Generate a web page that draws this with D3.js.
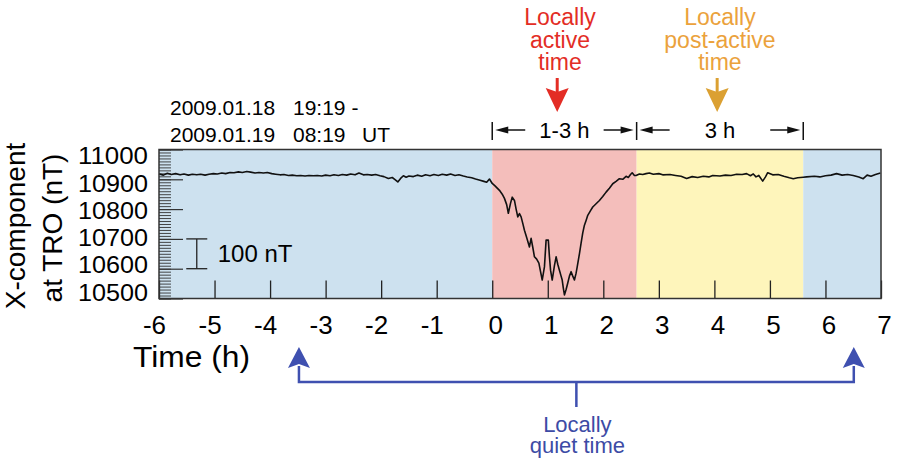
<!DOCTYPE html>
<html>
<head>
  <meta charset="utf-8">
  <title>X-component at TRO</title>
  <script src="https://cdn.jsdelivr.net/npm/d3@7"></script>
</head>
<style>
  html,
  body {
    margin: 0;
    padding: 0;
    overflow: hidden;
    background: #fff
  }

  svg {
    font-family: "Liberation Sans", Arial, sans-serif;
  }
</style>
<body>
  <div id="chart"></div>
</body>
<script>
  // hour ticks and nT ticks
  const hourTicks = d3.range(-6, 8)
  const nTTicks = [10500, 10600, 10700, 10800, 10900, 11000]
  const nTMinor = d3.range(10500, 11001, 10)

  // shaded periods
  const periodNames = ['quiet', 'active', 'post-active', 'quiet']
  const periodStart = [-6, 0, 2.6, 5.6]
  const periodEnd = [0, 2.6, 5.6, 7]

  // bracket bars above the plot (hours)
  const bracketBars = [0, 2.6, 5.6]
  const bracketLabels = ['1-3 h', '3 h']

  // blue arrows for quiet time (hours)
  const quietMarks = [-3.48, 6.51]

  // X component (nT), [hour, nT]
  const trace = [
    [-6.00, 10918], [-5.92, 10914], [-5.85, 10920], [-5.78, 10916], [-5.70, 10919], [-5.62, 10915],
    [-5.55, 10918], [-5.47, 10914], [-5.40, 10917], [-5.32, 10915], [-5.25, 10917], [-5.17, 10914],
    [-5.10, 10917], [-5.02, 10919], [-4.95, 10918], [-4.87, 10921], [-4.80, 10919], [-4.72, 10923],
    [-4.65, 10922], [-4.57, 10925], [-4.50, 10923], [-4.42, 10926], [-4.35, 10924], [-4.27, 10921],
    [-4.20, 10923], [-4.12, 10921], [-4.05, 10923], [-3.97, 10919], [-3.90, 10917], [-3.82, 10915],
    [-3.75, 10916], [-3.67, 10913], [-3.60, 10914], [-3.52, 10912], [-3.45, 10913], [-3.37, 10911],
    [-3.30, 10913], [-3.22, 10912], [-3.15, 10913], [-3.07, 10911], [-3.00, 10914], [-2.92, 10912],
    [-2.85, 10915], [-2.77, 10913], [-2.70, 10916], [-2.62, 10914], [-2.55, 10918], [-2.47, 10915],
    [-2.40, 10921], [-2.32, 10915], [-2.25, 10916], [-2.17, 10914], [-2.10, 10916], [-2.02, 10912],
    [-1.95, 10909], [-1.87, 10903], [-1.80, 10906], [-1.75, 10899], [-1.70, 10891], [-1.65, 10903],
    [-1.60, 10912], [-1.55, 10907], [-1.50, 10911], [-1.42, 10909], [-1.35, 10914], [-1.27, 10910],
    [-1.20, 10915], [-1.12, 10912], [-1.05, 10916], [-0.97, 10913], [-0.90, 10917], [-0.82, 10914],
    [-0.75, 10918], [-0.67, 10913], [-0.60, 10915], [-0.52, 10911], [-0.45, 10908], [-0.37, 10905],
    [-0.30, 10901], [-0.22, 10897], [-0.15, 10893], [-0.10, 10890], [-0.05, 10901], [0.00, 10886],
    [0.05, 10878], [0.13, 10863], [0.18, 10850], [0.22, 10836], [0.26, 10815], [0.29, 10786],
    [0.33, 10820], [0.36, 10840], [0.40, 10829], [0.43, 10800], [0.46, 10774], [0.49, 10785],
    [0.52, 10774], [0.55, 10752], [0.58, 10729], [0.62, 10705], [0.67, 10673], [0.70, 10702],
    [0.73, 10672], [0.76, 10640], [0.80, 10632], [0.84, 10619], [0.87, 10590], [0.90, 10562],
    [0.94, 10606], [0.97, 10696], [1.01, 10696], [1.03, 10640], [1.05, 10595], [1.08, 10562],
    [1.12, 10610], [1.15, 10640], [1.18, 10615], [1.21, 10595], [1.24, 10575], [1.26, 10562],
    [1.28, 10535], [1.30, 10512], [1.33, 10530], [1.36, 10552], [1.39, 10575], [1.42, 10590],
    [1.45, 10575], [1.48, 10562], [1.51, 10585], [1.53, 10606], [1.57, 10650], [1.60, 10686],
    [1.63, 10720], [1.66, 10746], [1.69, 10762], [1.72, 10779], [1.77, 10795], [1.81, 10807],
    [1.87, 10818], [1.93, 10829], [1.99, 10842], [2.05, 10857], [2.11, 10870], [2.17, 10885],
    [2.23, 10893], [2.29, 10902], [2.35, 10900], [2.41, 10910], [2.45, 10906], [2.49, 10916],
    [2.52, 10922], [2.56, 10913], [2.59, 10913], [2.65, 10918], [2.71, 10916], [2.77, 10919],
    [2.83, 10921], [2.90, 10917], [3.00, 10919], [3.07, 10915], [3.20, 10916], [3.30, 10913],
    [3.40, 10910], [3.50, 10903], [3.60, 10909], [3.70, 10906], [3.80, 10910], [3.90, 10908],
    [3.97, 10913], [4.10, 10911], [4.20, 10914], [4.30, 10913], [4.40, 10917], [4.50, 10916],
    [4.58, 10919], [4.65, 10912], [4.70, 10918], [4.75, 10908], [4.80, 10913], [4.87, 10894],
    [4.92, 10908], [4.96, 10922], [5.05, 10915], [5.15, 10916], [5.25, 10910], [5.35, 10905],
    [5.42, 10902], [5.50, 10905], [5.60, 10907], [5.66, 10908], [5.80, 10910], [5.90, 10908],
    [6.00, 10912], [6.10, 10914], [6.20, 10919], [6.30, 10914], [6.40, 10916], [6.50, 10913],
    [6.60, 10908], [6.68, 10902], [6.75, 10914], [6.82, 10910], [6.90, 10916], [6.99, 10921]
  ]

  const W = 898, H = 462
  const plotL = 159, plotR = 881, plotT = 149.5, plotB = 298.5

  const colors = { 'quiet': '#cde1ef', 'active': '#f4bebb', 'post-active': '#fef5bb' }

  const x = d3.scaleLinear().domain([-6, 7]).range([plotL, plotR])
  const y = d3.scaleLinear().domain([10500, 11000]).range([plotB, plotT])
  // tick labels sit a little inside the tick range in the original
  const yLab = d3.scaleLinear().domain([10500, 11000]).range([292.5, 156])

  const svg = d3.select('#chart').append('svg')
    .attr('width', W).attr('height', H)

  // shading
  svg.append('g').selectAll('rect')
    .data(periodNames)
    .enter().append('rect')
    .attr('x', (d, i) => x(periodStart[i]))
    .attr('y', plotT)
    .attr('width', (d, i) => x(periodEnd[i]) - x(periodStart[i]))
    .attr('height', plotB - plotT)
    .attr('fill', d => colors[d])

  // minor y ticks
  svg.append('g')
    .attr('transform', `translate(${plotL},0)`)
    .call(d3.axisLeft(y).tickValues(nTMinor).tickSize(-12).tickFormat(''))
    .call(g => g.select('.domain').remove())
    .call(g => g.selectAll('line').attr('stroke', '#333').attr('stroke-width', 0.9))

  // major y ticks
  svg.append('g')
    .attr('transform', `translate(${plotL},0)`)
    .call(d3.axisLeft(y).tickValues(nTTicks).tickSize(-24).tickFormat(''))
    .call(g => g.select('.domain').remove())
    .call(g => g.selectAll('line').attr('stroke', '#333').attr('stroke-width', 1.2))

  svg.append('g').selectAll('text')
    .data(nTTicks)
    .enter().append('text')
    .attr('x', 148)
    .attr('y', d => yLab(d))
    .attr('dy', '0.36em')
    .attr('text-anchor', 'end')
    .attr('font-size', 23)
    .attr('textLength', 70)
    .attr('lengthAdjust', 'spacingAndGlyphs')
    .text(d => d)

  // x axis (plain hyphen for negatives, as in the figure)
  svg.append('g')
    .attr('transform', `translate(0,${plotB})`)
    .call(d3.axisBottom(x).tickValues(hourTicks).tickFormat(d => String(d))
      .tickSizeInner(-18).tickSizeOuter(0).tickPadding(17))
    .call(g => g.select('.domain').remove())
    .call(g => g.selectAll('line').attr('stroke', '#222').attr('stroke-width', 1.3))
    .call(g => g.selectAll('text')
      .attr('font-size', 26)
      .attr('font-family', '"Liberation Sans", Arial, sans-serif')
      .attr('fill', '#000')
      .attr('dx', d => d < 0 ? -5 : 3))

  // trace
  svg.append('path')
    .datum(trace)
    .attr('fill', 'none')
    .attr('stroke', '#111')
    .attr('stroke-width', 1.6)
    .attr('stroke-linejoin', 'round')
    .attr('d', d3.line().x(d => x(d[0])).y(d => y(d[1])))

  // frame
  svg.append('rect')
    .attr('x', plotL).attr('y', plotT)
    .attr('width', plotR - plotL).attr('height', plotB - plotT)
    .attr('fill', 'none').attr('stroke', '#333').attr('stroke-width', 1.5)

  // 100 nT scale bar
  const sb = svg.append('g').attr('stroke', '#222').attr('stroke-width', 1.3)
  const sbx = x(-5.32)
  sb.append('line').attr('x1', sbx).attr('x2', sbx).attr('y1', y(10700)).attr('y2', y(10600))
  sb.append('line').attr('x1', sbx - 10.5).attr('x2', sbx + 10.5).attr('y1', y(10700)).attr('y2', y(10700))
  sb.append('line').attr('x1', sbx - 10.5).attr('x2', sbx + 10.5).attr('y1', y(10600)).attr('y2', y(10600))
  svg.append('text')
    .attr('x', sbx + 21).attr('y', y(10650)).attr('dy', '0.36em')
    .attr('font-size', 24)
    .text('100 nT')

  // y title
  svg.append('text')
    .attr('transform', 'translate(25,226) rotate(-90)')
    .attr('text-anchor', 'middle')
    .attr('font-size', 28)
    .text('X-component')
  svg.append('text')
    .attr('transform', 'translate(62,228) rotate(-90)')
    .attr('text-anchor', 'middle')
    .attr('font-size', 28)
    .text('at TRO (nT)')

  // x title
  svg.append('text')
    .attr('x', 133).attr('y', 367)
    .attr('font-size', 29)
    .attr('textLength', 117)
    .attr('lengthAdjust', 'spacingAndGlyphs')
    .text('Time (h)')

  // date range
  const dates = svg.append('g').attr('font-size', 21)
  dates.append('text').attr('x', 170).attr('y', 115).text('2009.01.18')
  dates.append('text').attr('x', 293).attr('y', 115).text('19:19 -')
  dates.append('text').attr('x', 170).attr('y', 141.5).text('2009.01.19')
  dates.append('text').attr('x', 293).attr('y', 141.5).text('08:19')
  dates.append('text').attr('x', 362).attr('y', 141.5).text('UT')

  // bracket above the plot
  const by = 130
  const br = svg.append('g').attr('stroke', '#111').attr('stroke-width', 1.5)
  bracketBars.forEach(h => {
    br.append('line').attr('x1', x(h)).attr('x2', x(h)).attr('y1', 122).attr('y2', 140)
  })
  function smallArrow(g, tip, dir) {
    // dir = +1 points right, -1 points left
    const tail = tip - dir * 30
    g.append('line').attr('x1', tail).attr('x2', tip - dir * 8).attr('y1', by).attr('y2', by)
    g.append('path')
      .attr('d', `M${tip},${by}L${tip - dir * 13},${by - 3.5}L${tip - dir * 13},${by + 3.5}Z`)
      .attr('fill', '#111').attr('stroke', 'none')
  }
  for (let i = 0; i < bracketLabels.length; i++) {
    const a = x(bracketBars[i]), b = x(bracketBars[i + 1])
    smallArrow(br, a + 3, -1)
    smallArrow(br, b - 3, 1)
    svg.append('text')
      .attr('x', (a + b) / 2).attr('y', 138)
      .attr('text-anchor', 'middle')
      .attr('font-size', 22)
      .text(bracketLabels[i])
  }

  // coloured callouts above
  function callout(lines, cx, ax, textColor, arrowColor) {
    svg.append('g').selectAll('text')
      .data(lines)
      .enter().append('text')
      .attr('x', cx)
      .attr('y', (d, i) => 25 + i * 22.5)
      .attr('text-anchor', 'middle')
      .attr('font-size', 23)
      .attr('fill', textColor)
      .text(d => d)
    svg.append('line')
      .attr('x1', ax).attr('x2', ax).attr('y1', 78).attr('y2', 92)
      .attr('stroke', arrowColor).attr('stroke-width', 3)
    svg.append('path')
      .attr('d', `M${ax - 11.5},88L${ax},92L${ax + 11.5},88L${ax},112Z`)
      .attr('fill', arrowColor)
  }
  callout(['Locally', 'active', 'time'], x(1.22), x(1.17), '#e32d25', '#e32d25')
  callout(['Locally', 'post-active', 'time'], x(4.1), x(4.05), '#eba23c', '#dba032')

  // quiet time arrows below
  const blue = '#3f50b0'
  const qa = x(quietMarks[0]), qb = x(quietMarks[1]), qm = (qa + qb) / 2
  const q = svg.append('g')
  q.append('path')
    .attr('d', `M${qa},366V382H${qb}V366M${qm},382V407`)
    .attr('fill', 'none').attr('stroke', blue).attr('stroke-width', 2.5)
  quietMarks.forEach(h => {
    const ax = x(h)
    q.append('path')
      .attr('d', `M${ax - 11},368L${ax},347L${ax + 11},368L${ax},364Z`)
      .attr('fill', blue)
  })
  q.selectAll('text')
    .data(['Locally', 'quiet time'])
    .enter().append('text')
    .attr('x', qm + 1)
    .attr('y', (d, i) => 432 + i * 21)
    .attr('text-anchor', 'middle')
    .attr('font-size', 22)
    .attr('fill', '#3d4ba5')
    .text(d => d)
</script>
</html>
